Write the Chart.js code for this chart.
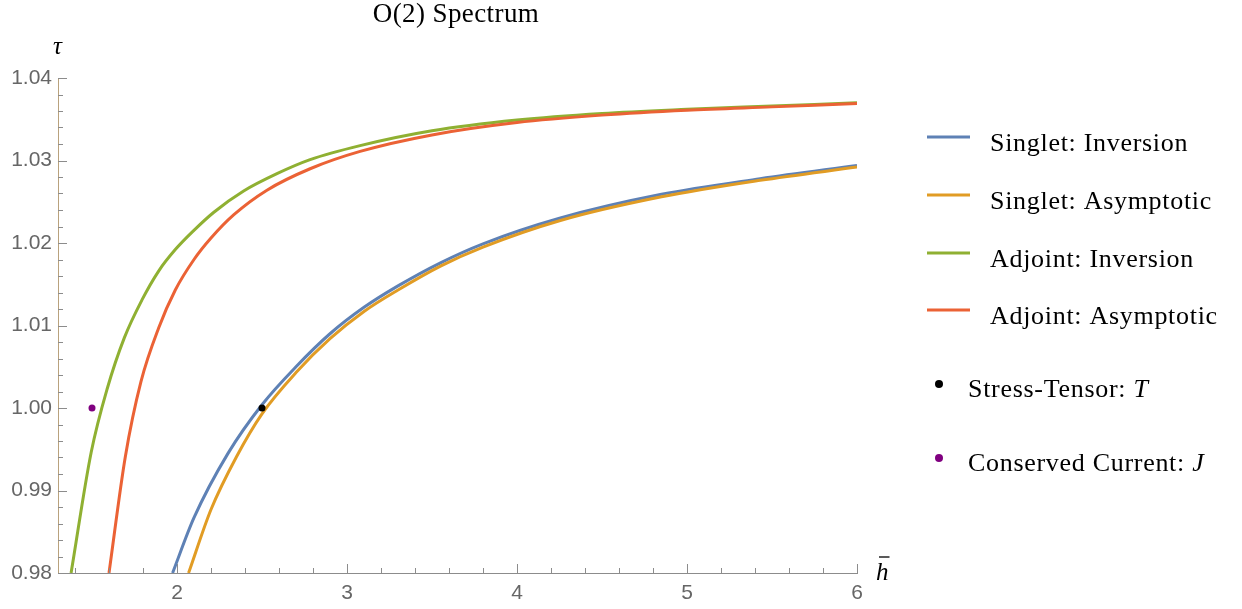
<!DOCTYPE html>
<html>
<head>
<meta charset="utf-8">
<script src="https://cdn.jsdelivr.net/npm/chart.js@4.4.1/dist/chart.umd.min.js"></script>
<style>
  body { margin: 0; background: #fff; }
  #wrap { width: 1242px; height: 609px; position: relative; }
</style>
</head>
<body>
<div id="wrap"><canvas id="spectrum"></canvas></div>
<script>
// Singlet: Inversion
const singletInvH   = [1.974, 2.1, 2.3, 2.5, 2.7, 2.9, 3.1, 3.3, 3.55, 3.8, 4.25, 4.85, 5.43, 6.0];
const singletInvTau = [0.980, 0.9867, 0.9945, 1.0004, 1.0050, 1.0090, 1.0122, 1.0148, 1.0176, 1.0199, 1.0230, 1.0259, 1.0278, 1.0294];

// Singlet: Asymptotic
const singletAsyH   = [2.068, 2.2, 2.35, 2.5, 2.7, 2.9, 3.1, 3.3, 3.55, 3.8, 4.25, 4.85, 5.43, 6.0];
const singletAsyTau = [0.980, 0.9877, 0.9941, 0.9993, 1.0043, 1.0084, 1.0117, 1.0143, 1.0172, 1.0195, 1.0227, 1.0256, 1.0276, 1.0292];

// Adjoint: Inversion
const adjointInvH   = [1.377, 1.495, 1.589, 1.690, 1.794, 1.892, 1.990, 2.098, 2.215, 2.392, 2.588, 2.783, 3.077, 3.5, 4.0, 4.5, 5.0, 5.5, 6.0];
const adjointInvTau = [0.980, 0.9946, 1.0023, 1.0085, 1.0131, 1.0166, 1.0192, 1.0215, 1.0237, 1.0263, 1.0284, 1.0301, 1.0318, 1.0336, 1.0349, 1.0357, 1.0362, 1.0366, 1.0370];

// Adjoint: Asymptotic
const adjointAsyH   = [1.600, 1.696, 1.788, 1.892, 1.990, 2.1, 2.2, 2.333, 2.529, 2.783, 3.077, 3.5, 4.0, 4.5, 5.0, 5.5, 6.0];
const adjointAsyTau = [0.980, 0.9941, 1.0032, 1.0097, 1.0143, 1.0180, 1.0206, 1.0234, 1.0264, 1.0290, 1.0311, 1.0331, 1.0346, 1.0355, 1.0361, 1.0365, 1.0369];

// single points
const stressTensor     = [2.5, 1.0];
const conservedCurrent = [1.5, 1.0];

// axes
const xMin = 1.3, xMax = 6;
const yMin = 0.98, yMax = 1.04;
const xLabels = ['2', '3', '4', '5', '6'];
const yLabels = ['0.98', '0.99', '1.00', '1.01', '1.02', '1.03', '1.04'];

const zip = (xs, ys) => xs.map((x, i) => ({ x: x, y: ys[i] }));

const xTicks = [];
for (let i = 7; i <= 30; i++) xTicks.push(i / 5);          // every 0.2
const yTicks = [];
for (let i = 490; i <= 520; i++) yTicks.push(i / 500);     // every 0.002

const isMajorX = v => Math.abs(v - Math.round(v)) < 1e-6 && xLabels.includes(String(Math.round(v)));
const isMajorY = v => Math.abs(v * 100 - Math.round(v * 100)) < 1e-6;

const serif = '"Liberation Serif", "DejaVu Serif", serif';
const sans = '"Liberation Sans", Arial, sans-serif';

const lineDs = (label, data, color, order) => ({
  label, data, borderColor: color, backgroundColor: color,
  borderWidth: 3, pointRadius: 0, fill: false,
  cubicInterpolationMode: 'monotone', order
});

// inward ticks, axis names, title and legend
const decor = {
  id: 'decor',
  afterDraw(chart) {
    const ctx = chart.ctx;
    const xs = chart.scales.x, ys = chart.scales.y;
    const area = chart.chartArea;
    ctx.save();
    ctx.strokeStyle = '#8c8c8c';
    ctx.lineWidth = 1;
    xTicks.forEach(v => {
      const p = Math.round(xs.getPixelForValue(v)) + 0.5;
      const len = isMajorX(v) ? 9 : 5;
      ctx.beginPath(); ctx.moveTo(p, area.bottom); ctx.lineTo(p, area.bottom - len); ctx.stroke();
    });
    yTicks.forEach(v => {
      const p = Math.round(ys.getPixelForValue(v)) + 0.5;
      const len = isMajorY(v) ? 9 : 5;
      ctx.beginPath(); ctx.moveTo(area.left, p); ctx.lineTo(area.left + len, p); ctx.stroke();
    });

    // title
    ctx.fillStyle = '#000';
    ctx.textAlign = 'center';
    ctx.textBaseline = 'alphabetic';
    ctx.font = '27px ' + serif;
    ctx.letterSpacing = '0.4px';
    ctx.fillText('O(2) Spectrum', 456, 22);

    // axis names
    ctx.letterSpacing = '0px';
    ctx.textAlign = 'left';
    ctx.font = 'italic 25px ' + serif;
    ctx.fillText('\u03C4', 53, 54);
    ctx.fillText('h', 876, 580);
    const hw = ctx.measureText('h').width;
    ctx.strokeStyle = '#000';
    ctx.lineWidth = 1.3;
    ctx.beginPath(); ctx.moveTo(879, 557); ctx.lineTo(876 + hw + 1, 557); ctx.stroke();

    // legend
    const ds = chart.data.datasets;
    ctx.letterSpacing = '0.7px';
    const lineRows = [137, 195, 253, 310];
    [0, 1, 2, 3].forEach((k, i) => {
      const y = lineRows[i];
      ctx.strokeStyle = ds[k].borderColor;
      ctx.lineWidth = 3;
      ctx.beginPath(); ctx.moveTo(927, y); ctx.lineTo(970, y); ctx.stroke();
      ctx.fillStyle = '#000';
      ctx.font = '26px ' + serif;
      ctx.fillText(ds[k].label, 990, y + 14);
    });
    const pointRows = [384, 458];
    [4, 5].forEach((k, i) => {
      const y = pointRows[i];
      ctx.fillStyle = ds[k].backgroundColor;
      ctx.beginPath(); ctx.arc(939, y, 4, 0, Math.PI * 2); ctx.fill();
      const label = ds[k].label;
      const head = label.slice(0, -1), tail = label.slice(-1);
      ctx.fillStyle = '#000';
      ctx.font = '26px ' + serif;
      ctx.fillText(head, 968, y + 13);
      const w = ctx.measureText(head).width;
      ctx.font = 'italic 26px ' + serif;
      ctx.fillText(tail, 968 + w, y + 13);
    });
    ctx.restore();
  }
};

new Chart(document.getElementById('spectrum'), {
  type: 'line',
  data: {
    datasets: [
      lineDs('Singlet: Inversion',   zip(singletInvH, singletInvTau), '#5E81B5', 4),
      lineDs('Singlet: Asymptotic',  zip(singletAsyH, singletAsyTau), '#E19C24', 3),
      lineDs('Adjoint: Inversion',   zip(adjointInvH, adjointInvTau), '#8FB032', 2),
      lineDs('Adjoint: Asymptotic',  zip(adjointAsyH, adjointAsyTau), '#EB6235', 1),
      {
        type: 'scatter', label: 'Stress-Tensor: T',
        data: [{ x: stressTensor[0], y: stressTensor[1] }],
        backgroundColor: '#000', borderColor: '#000', pointRadius: 3.5, borderWidth: 0, order: 0
      },
      {
        type: 'scatter', label: 'Conserved Current: J',
        data: [{ x: conservedCurrent[0], y: conservedCurrent[1] }],
        backgroundColor: '#800080', borderColor: '#800080', pointRadius: 3.5, borderWidth: 0, order: 0
      }
    ]
  },
  options: {
    responsive: true,
    maintainAspectRatio: false,
    animation: false,
    layout: { padding: { left: 0, top: 78, right: 385, bottom: 0 } },
    plugins: {
      legend: { display: false },
      title: { display: false },
      tooltip: { enabled: false }
    },
    scales: {
      x: {
        type: 'linear', min: xMin, max: xMax,
        afterBuildTicks: s => { s.ticks = xTicks.map(v => ({ value: v })); },
        afterFit: s => { s.height = 36; },
        grid: { display: false, drawTicks: false },
        border: { display: true, color: '#8c8c8c', width: 1 },
        ticks: {
          autoSkip: false, maxRotation: 0, padding: 8,
          color: '#666', font: { family: sans, size: 21 },
          callback: v => isMajorX(v) ? String(Math.round(v)) : ''
        }
      },
      y: {
        type: 'linear', min: yMin, max: yMax,
        afterBuildTicks: s => { s.ticks = yTicks.map(v => ({ value: v })); },
        afterFit: s => { s.width = 58; },
        grid: { display: false, drawTicks: false },
        border: { display: true, color: '#b9a27d', width: 1 },
        ticks: {
          autoSkip: false, padding: 6,
          color: '#666', font: { family: sans, size: 21 },
          callback: v => isMajorY(v) ? yLabels[Math.round((v - yMin) * 100)] : ''
        }
      }
    }
  },
  plugins: [decor]
});
</script>
</body>
</html>
